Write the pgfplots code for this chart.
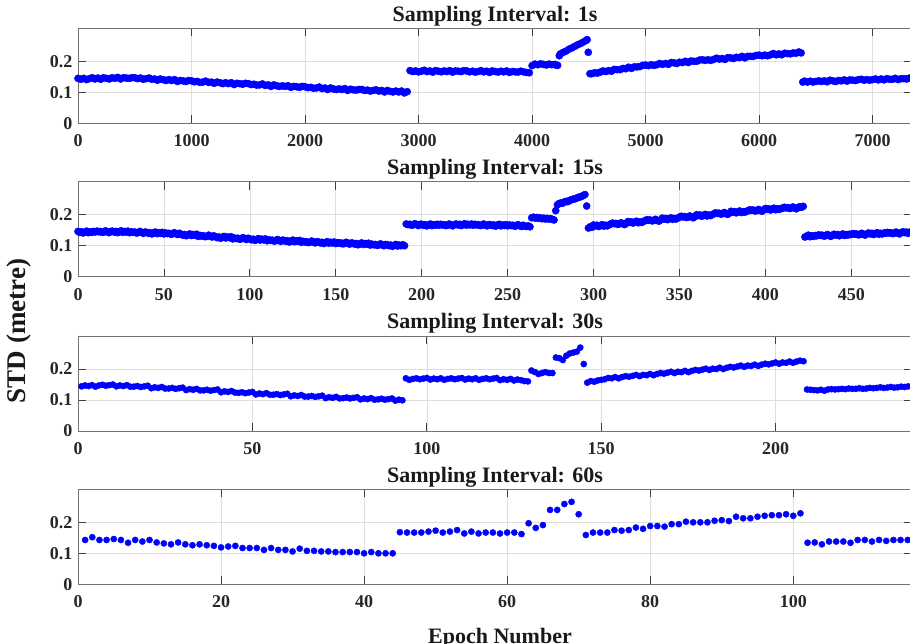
\documentclass[border=0pt]{standalone}
\usepackage{fontspec}
\setmainfont{Liberation Serif}
\usepackage{pgfplots}
\pgfplotsset{compat=1.18}
\pgfplotsset{
 stdax/.style={
  scale only axis, width=834pt, height=95pt, anchor=south west,
  xmin=0, ymin=0, ymax=0.3065, clip=false,
  ytick={0,0.1,0.2}, yticklabels={0,0.1,0.2},
  tick align=inside, xtick pos=both, ytick pos=both,
  major tick length=8pt,
  grid=major, major grid style={black!13, line width=0.6pt},
  axis line style={black!55, line width=0.8pt},
  tick style={black!75, line width=0.8pt},
  ticklabel style={font=\fontsize{18}{18}\selectfont\bfseries, text=black!85},
  /pgf/number format/assume math mode=true,
  /pgf/number format/1000 sep={},
  scaled ticks=false,
  xticklabel style={yshift=-8pt},
  yticklabel style={xshift=-2pt},
  title style={at={(0.5,1)}, anchor=base, yshift=1pt, font=\fontsize{22}{22}\selectfont\bfseries, text=black!90},
 },
 dots/.style={only marks, mark=*, mark size=3.1pt, color=blue, mark options={draw=blue, fill=blue}},
 dense/.style={only marks, mark=*, mark size=3.6pt, color=blue, mark options={draw=blue, fill=blue}},
}
\begin{document}
\begin{tikzpicture}
\useasboundingbox (0pt,0pt) rectangle (910pt,644pt);
% ---------- 1 s ----------
\begin{axis}[stdax, at={(78pt,520.7pt)}, xmax=7347, xtick={0,1000,...,7000}, title={Sampling Interval: 1s}]
\addplot[dense] coordinates {
(0,.145)(25,.142)(50,.145)(75,.141)(100,.144)(125,.147)(150,.143)(175,.146)(200,.142)(225,.147)(250,.145)(275,.143)(300,.147)(325,.145)(350,.148)(375,.143)(400,.147)(425,.146)(450,.145)(475,.147)(500,.147)(525,.144)(550,.146)(575,.142)(600,.144)(625,.146)(650,.142)(675,.143)(700,.139)(725,.143)(750,.141)(775,.138)(800,.141)(825,.138)(850,.141)(875,.135)(900,.138)(925,.137)(950,.135)(975,.138)(1000,.137)(1025,.134)(1050,.135)(1075,.132)(1100,.133)(1125,.136)(1150,.132)(1175,.133)(1200,.129)(1225,.133)(1250,.131)(1275,.128)(1300,.131)(1325,.128)(1350,.131)(1375,.125)(1400,.129)(1425,.128)(1450,.126)(1475,.129)(1500,.128)(1525,.125)(1550,.126)(1575,.123)(1600,.124)(1625,.127)(1650,.122)(1675,.124)(1700,.119)(1725,.124)(1750,.121)(1775,.119)(1800,.121)(1825,.119)(1850,.121)(1875,.116)(1900,.119)(1925,.118)(1950,.116)(1975,.119)(2000,.118)(2025,.115)(2050,.116)(2075,.113)(2100,.114)(2125,.117)(2150,.112)(2175,.114)(2200,.109)(2225,.114)(2250,.111)(2275,.109)(2300,.111)(2325,.109)(2350,.112)(2375,.106)(2400,.110)(2425,.108)(2450,.107)(2475,.109)(2500,.109)(2525,.106)(2550,.107)(2575,.104)(2600,.106)(2625,.108)(2650,.104)(2675,.106)(2700,.101)(2725,.106)(2750,.103)(2775,.101)(2800,.104)(2825,.101)(2850,.104)(2875,.098)(2900,.102)
(2925,.170)(2950,.167)(2975,.169)(3000,.166)(3025,.168)(3050,.171)(3075,.167)(3100,.169)(3125,.165)(3150,.170)(3175,.168)(3200,.166)(3225,.169)(3250,.167)(3275,.170)(3300,.165)(3325,.169)(3350,.168)(3375,.167)(3400,.170)(3425,.169)(3450,.166)(3475,.168)(3500,.165)(3525,.167)(3550,.170)(3575,.166)(3600,.168)(3625,.164)(3650,.169)(3675,.167)(3700,.165)(3725,.168)(3750,.166)(3775,.169)(3800,.164)(3825,.167)(3850,.166)(3875,.165)(3900,.168)(3925,.166)(3950,.164)(3975,.163)
(4000,.186)(4025,.191)(4050,.189)(4075,.192)(4100,.190)(4125,.188)(4150,.191)(4175,.189)(4200,.190)(4210,.188)(4225,.187)
(4240,.218)(4250,.224)(4275,.229)(4300,.233)(4325,.239)(4350,.243)(4375,.248)(4400,.253)(4425,.257)(4450,.262)(4475,.267)(4485,.270)
(4495,.229)
(4510,.160)(4525,.160)(4550,.163)(4575,.162)(4600,.165)(4625,.169)(4650,.167)(4675,.170)(4700,.168)(4725,.174)(4750,.173)(4775,.173)(4800,.177)(4825,.176)(4850,.181)(4875,.177)(4900,.182)(4925,.182)(4950,.183)(4975,.187)(5000,.188)(5025,.186)(5050,.189)(5075,.187)(5100,.189)(5125,.193)(5150,.190)(5175,.193)(5200,.190)(5225,.196)(5250,.195)(5275,.193)(5300,.197)(5325,.196)(5350,.200)(5375,.196)(5400,.201)(5425,.200)(5450,.200)(5475,.204)(5500,.205)(5525,.203)(5550,.205)(5575,.203)(5600,.206)(5625,.210)(5650,.207)(5675,.209)(5700,.206)(5725,.212)(5750,.211)(5775,.209)(5800,.213)(5825,.212)(5850,.216)(5875,.211)(5900,.216)(5925,.216)(5950,.216)(5975,.219)(6000,.220)(6025,.218)(6050,.220)(6075,.218)(6100,.221)(6125,.225)(6150,.221)(6175,.224)(6200,.221)(6225,.226)(6250,.225)(6275,.224)(6300,.227)(6325,.226)(6350,.230)(6370,.227)
(6385,.133)(6400,.136)(6425,.133)(6450,.136)(6475,.133)(6500,.135)(6525,.137)(6550,.135)(6575,.137)(6600,.134)(6625,.139)(6650,.137)(6675,.135)(6700,.138)(6725,.137)(6750,.140)(6775,.136)(6800,.140)(6825,.139)(6850,.138)(6875,.141)(6900,.142)(6925,.139)(6950,.141)(6975,.139)(7000,.141)(7025,.143)(7050,.140)(7075,.143)(7100,.140)(7125,.144)(7150,.142)(7175,.142)(7200,.145)(7225,.141)(7250,.144)(7275,.144)(7300,.143)(7325,.146)(7350,.143)
};
\end{axis}
% ---------- 15 s ----------
\begin{axis}[stdax, at={(78pt,367.3pt)}, xmax=485.3, xtick={0,50,...,450}, title={Sampling Interval: 15s}]
\addplot[dense] coordinates {
(0,.146)(1,.143)(2,.145)(3,.141)(4,.144)(5,.147)(6,.142)(7,.145)(8,.143)(9,.146)
(10,.144)(11,.147)(12,.145)(13,.146)(14,.143)(15,.144)(16,.148)(17,.145)(18,.142)(19,.146)
(20,.147)(21,.144)(22,.146)(23,.142)(24,.145)(25,.148)(26,.143)(27,.146)(28,.144)(29,.147)
(30,.142)(31,.145)(32,.143)(33,.144)(34,.141)(35,.142)(36,.146)(37,.143)(38,.140)(39,.144)
(40,.143)(41,.140)(42,.142)(43,.138)(44,.141)(45,.144)(46,.139)(47,.142)(48,.140)(49,.143)
(50,.138)(51,.141)(52,.139)(53,.140)(54,.137)(55,.138)(56,.142)(57,.139)(58,.136)(59,.140)
(60,.137)(61,.134)(62,.136)(63,.132)(64,.135)(65,.138)(66,.133)(67,.136)(68,.134)(69,.137)
(70,.130)(71,.133)(72,.131)(73,.132)(74,.129)(75,.130)(76,.134)(77,.131)(78,.128)(79,.132)
(80,.129)(81,.126)(82,.128)(83,.124)(84,.127)(85,.130)(86,.125)(87,.128)(88,.126)(89,.129)
(90,.122)(91,.125)(92,.123)(93,.124)(94,.121)(95,.122)(96,.126)(97,.123)(98,.120)(99,.124)
(100,.122)(101,.119)(102,.121)(103,.117)(104,.120)(105,.123)(106,.118)(107,.121)(108,.119)(109,.122)
(110,.116)(111,.119)(112,.117)(113,.118)(114,.115)(115,.116)(116,.120)(117,.117)(118,.114)(119,.118)
(120,.117)(121,.114)(122,.116)(123,.112)(124,.115)(125,.118)(126,.113)(127,.116)(128,.114)(129,.117)
(130,.111)(131,.114)(132,.112)(133,.113)(134,.110)(135,.111)(136,.115)(137,.112)(138,.109)(139,.113)
(140,.112)(141,.109)(142,.111)(143,.107)(144,.110)(145,.113)(146,.108)(147,.111)(148,.109)(149,.112)
(150,.107)(151,.110)(152,.108)(153,.109)(154,.106)(155,.107)(156,.111)(157,.108)(158,.105)(159,.109)
(160,.108)(161,.105)(162,.107)(163,.103)(164,.106)(165,.109)(166,.104)(167,.107)(168,.105)(169,.108)
(170,.102)(171,.105)(172,.103)(173,.104)(174,.101)(175,.102)(176,.106)(177,.103)(178,.100)(179,.104)
(180,.103)(181,.100)(182,.102)(183,.098)(184,.101)(185,.104)(186,.099)(187,.102)(188,.100)(189,.103)(190,.100)
(191,.170)(192,.168)(193,.169)(194,.166)(195,.167)(196,.171)(197,.168)(198,.165)(199,.169)
(200,.169)(201,.166)(202,.168)(203,.164)(204,.167)(205,.170)(206,.165)(207,.168)(208,.166)(209,.169)
(210,.166)(211,.169)(212,.167)(213,.168)(214,.165)(215,.166)(216,.170)(217,.167)(218,.164)(219,.168)
(220,.170)(221,.167)(222,.169)(223,.165)(224,.168)(225,.171)(226,.166)(227,.169)(228,.167)(229,.170)
(230,.166)(231,.169)(232,.167)(233,.168)(234,.165)(235,.166)(236,.170)(237,.167)(238,.164)(239,.168)
(240,.168)(241,.165)(242,.167)(243,.163)(244,.166)(245,.169)(246,.164)(247,.167)(248,.165)(249,.168)
(250,.164)(251,.167)(252,.165)(253,.166)(254,.163)(255,.164)(256,.168)(257,.165)(258,.162)(259,.166)
(260,.163)(261,.162)(262,.164)(263,.161)
(264,.190)(265,.192)(266,.189)(267,.191)(268,.188)(269,.190)(270,.187)(271,.189)(272,.186)(273,.188)(274,.186)(275,.187)(276,.185)(277,.183)
(278,.213)
(279,.232)(280,.236)(281,.238)(282,.237)(283,.241)(284,.243)(285,.242)(286,.246)(287,.248)(288,.250)(289,.251)(290,.253)(291,.256)(292,.257)(293,.259)(294,.262)(295,.265)
(296,.228)
(297,.157)(298,.161)(299,.159)
(300,.167)(301,.164)(302,.166)(303,.162)(304,.165)(305,.168)(306,.163)(307,.166)(308,.164)(309,.167)
(310,.170)(311,.173)(312,.171)(313,.172)(314,.169)(315,.170)(316,.174)(317,.171)(318,.168)(319,.172)
(320,.178)(321,.175)(322,.177)(323,.173)(324,.176)(325,.179)(326,.174)(327,.177)(328,.175)(329,.178)
(330,.181)(331,.184)(332,.182)(333,.183)(334,.180)(335,.181)(336,.185)(337,.182)(338,.179)(339,.183)
(340,.189)(341,.186)(342,.188)(343,.184)(344,.187)(345,.190)(346,.185)(347,.188)(348,.186)(349,.189)
(350,.192)(351,.195)(352,.193)(353,.194)(354,.191)(355,.192)(356,.196)(357,.193)(358,.190)(359,.194)
(360,.200)(361,.197)(362,.199)(363,.195)(364,.198)(365,.201)(366,.196)(367,.199)(368,.197)(369,.200)
(370,.203)(371,.206)(372,.204)(373,.205)(374,.202)(375,.203)(376,.207)(377,.204)(378,.201)(379,.205)
(380,.211)(381,.208)(382,.210)(383,.206)(384,.209)(385,.212)(386,.207)(387,.210)(388,.208)(389,.211)
(390,.213)(391,.216)(392,.214)(393,.215)(394,.212)(395,.213)(396,.217)(397,.214)(398,.211)(399,.215)
(400,.220)(401,.217)(402,.219)(403,.215)(404,.218)(405,.221)(406,.216)(407,.219)(408,.217)(409,.220)
(410,.221)(411,.224)(412,.222)(413,.223)(414,.220)(415,.221)(416,.225)(417,.222)(418,.219)(419,.223)
(420,.226)(421,.224)(422,.227)
(423,.128)(424,.131)(425,.134)(426,.129)(427,.132)(428,.130)(429,.133)
(430,.132)(431,.135)(432,.133)(433,.134)(434,.131)(435,.132)(436,.136)(437,.133)(438,.130)(439,.134)
(440,.137)(441,.134)(442,.136)(443,.132)(444,.135)(445,.138)(446,.133)(447,.136)(448,.134)(449,.137)
(450,.136)(451,.139)(452,.137)(453,.138)(454,.135)(455,.136)(456,.140)(457,.137)(458,.134)(459,.138)
(460,.141)(461,.138)(462,.140)(463,.136)(464,.139)(465,.142)(466,.137)(467,.140)(468,.138)(469,.141)
(470,.140)(471,.143)(472,.141)(473,.142)(474,.139)(475,.140)(476,.144)(477,.141)(478,.138)(479,.142)
(480,.145)(481,.142)(482,.144)(483,.140)(484,.143)(485,.146)(486,.141)
};
\end{axis}
% ---------- 30 s ----------
\begin{axis}[stdax, at={(78pt,213pt)}, xmax=239.1, xtick={0,50,...,200}, title={Sampling Interval: 30s}]
\addplot[dots] coordinates {
(1,.144)(2,.147)(3,.145)(4,.148)(5,.143)(6,.147)(7,.149)(8,.146)(9,.148)(10,.150)
(11,.144)(12,.147)(13,.145)(14,.148)(15,.143)(16,.143)(17,.145)(18,.142)(19,.144)(20,.146)
(21,.138)(22,.141)(23,.139)(24,.142)(25,.137)(26,.137)(27,.139)(28,.136)(29,.138)(30,.140)
(31,.132)(32,.135)(33,.133)(34,.136)(35,.131)(36,.131)(37,.133)(38,.130)(39,.132)(40,.134)
(41,.125)(42,.128)(43,.126)(44,.129)(45,.124)(46,.123)(47,.125)(48,.122)(49,.124)(50,.126)
(51,.118)(52,.121)(53,.119)(54,.122)(55,.117)(56,.117)(57,.119)(58,.116)(59,.118)(60,.120)
(61,.112)(62,.115)(63,.113)(64,.116)(65,.111)(66,.111)(67,.113)(68,.110)(69,.112)(70,.114)
(71,.106)(72,.109)(73,.107)(74,.110)(75,.105)(76,.106)(77,.108)(78,.105)(79,.107)(80,.109)
(81,.102)(82,.105)(83,.103)(84,.106)(85,.101)(86,.102)(87,.104)(88,.101)(89,.103)(90,.105)
(91,.098)(92,.101)(93,.099)
(94,.170)(95,.165)(96,.168)(97,.170)(98,.167)(99,.169)(100,.171)(101,.166)(102,.169)(103,.167)
(104,.170)(105,.165)(106,.168)(107,.170)(108,.167)(109,.169)(110,.171)(111,.166)(112,.169)(113,.167)
(114,.170)(115,.165)(116,.168)(117,.170)(118,.167)(119,.169)(120,.171)(121,.164)(122,.167)(123,.165)
(124,.168)(125,.163)(126,.166)(127,.164)(128,.161)(129,.160)
(130,.195)(131,.190)(132,.184)(133,.187)(134,.190)(135,.187)(136,.187)
(137,.237)(138,.235)(139,.229)(140,.243)(141,.250)(142,.253)(143,.256)(144,.269)
(145,.216)
(146,.156)(147,.161)(148,.159)(149,.163)(150,.165)
(151,.167)(152,.171)(153,.170)(154,.174)(155,.170)(156,.174)(157,.177)(158,.175)(159,.178)(160,.181)
(161,.177)(162,.181)(163,.180)(164,.184)(165,.180)(166,.184)(167,.187)(168,.185)(169,.188)(170,.191)
(171,.187)(172,.191)(173,.190)(174,.194)(175,.190)(176,.194)(177,.197)(178,.195)(179,.198)(180,.201)
(181,.197)(182,.201)(183,.200)(184,.204)(185,.200)(186,.204)(187,.207)(188,.205)(189,.208)(190,.211)
(191,.207)(192,.211)(193,.210)(194,.214)(195,.210)(196,.214)(197,.217)(198,.215)(199,.218)(200,.221)
(201,.217)(202,.221)(203,.220)(204,.224)(205,.220)(206,.224)(207,.227)(208,.225)
(209,.134)(210,.133)(211,.132)(212,.131)(213,.133)(214,.130)(215,.134)(216,.135)(217,.134)(218,.135)
(219,.136)(220,.135)(221,.137)(222,.136)(223,.136)(224,.138)(225,.136)(226,.137)(227,.139)(228,.138)
(229,.139)(230,.141)(231,.139)(232,.140)(233,.142)(234,.140)(235,.141)(236,.143)(237,.142)(238,.144)(239,.143)
};
\end{axis}
% ---------- 60 s ----------
\begin{axis}[stdax, at={(78pt,59.7pt)}, xmax=116.6, xtick={0,20,...,100}, title={Sampling Interval: 60s}]
\addplot[dots] coordinates {
(1,.143)(2,.152)(3,.143)(4,.143)(5,.146)(6,.143)(7,.134)(8,.143)(9,.138)(10,.143)
(11,.135)(12,.132)(13,.129)(14,.135)(15,.129)(16,.126)(17,.129)(18,.126)(19,.124)(20,.119)
(21,.122)(22,.124)(23,.117)(24,.117)(25,.117)(26,.111)(27,.117)(28,.111)(29,.111)(30,.106)
(31,.115)(32,.108)(33,.108)(34,.106)(35,.106)(36,.104)(37,.104)(38,.104)(39,.104)(40,.100)
(41,.104)(42,.100)(43,.100)(44,.100)(45,.168)(46,.167)(47,.167)(48,.167)(49,.170)(50,.173)
(51,.167)(52,.170)(53,.175)(54,.164)(55,.170)(56,.164)(57,.167)(58,.167)(59,.164)(60,.167)
(61,.167)(62,.162)(63,.197)(64,.182)(65,.191)(66,.240)(67,.240)(68,.259)(69,.266)(70,.226)
(71,.159)(72,.167)(73,.167)(74,.167)(75,.175)(76,.173)(77,.175)(78,.183)(79,.179)(80,.188)
(81,.188)(82,.186)(83,.194)(84,.194)(85,.202)(86,.200)(87,.200)(88,.200)(89,.205)(90,.207)
(91,.204)(92,.218)(93,.213)(94,.213)(95,.218)(96,.221)(97,.223)(98,.223)(99,.226)(100,.221)
(101,.229)(102,.134)(103,.135)(104,.129)(105,.138)(106,.138)(107,.138)(108,.134)(109,.143)(110,.143)
(111,.138)(112,.143)(113,.140)(114,.143)(115,.143)(116,.143)
};
\end{axis}
\node[rotate=90, anchor=base, font=\fontsize{27}{27}\selectfont\bfseries, text=black!90] at (25pt,313pt) {STD (metre)};
\node[anchor=base, font=\fontsize{22}{22}\selectfont\bfseries, text=black!90] at (500pt,0.6pt) {Epoch Number};
\end{tikzpicture}
\end{document}
